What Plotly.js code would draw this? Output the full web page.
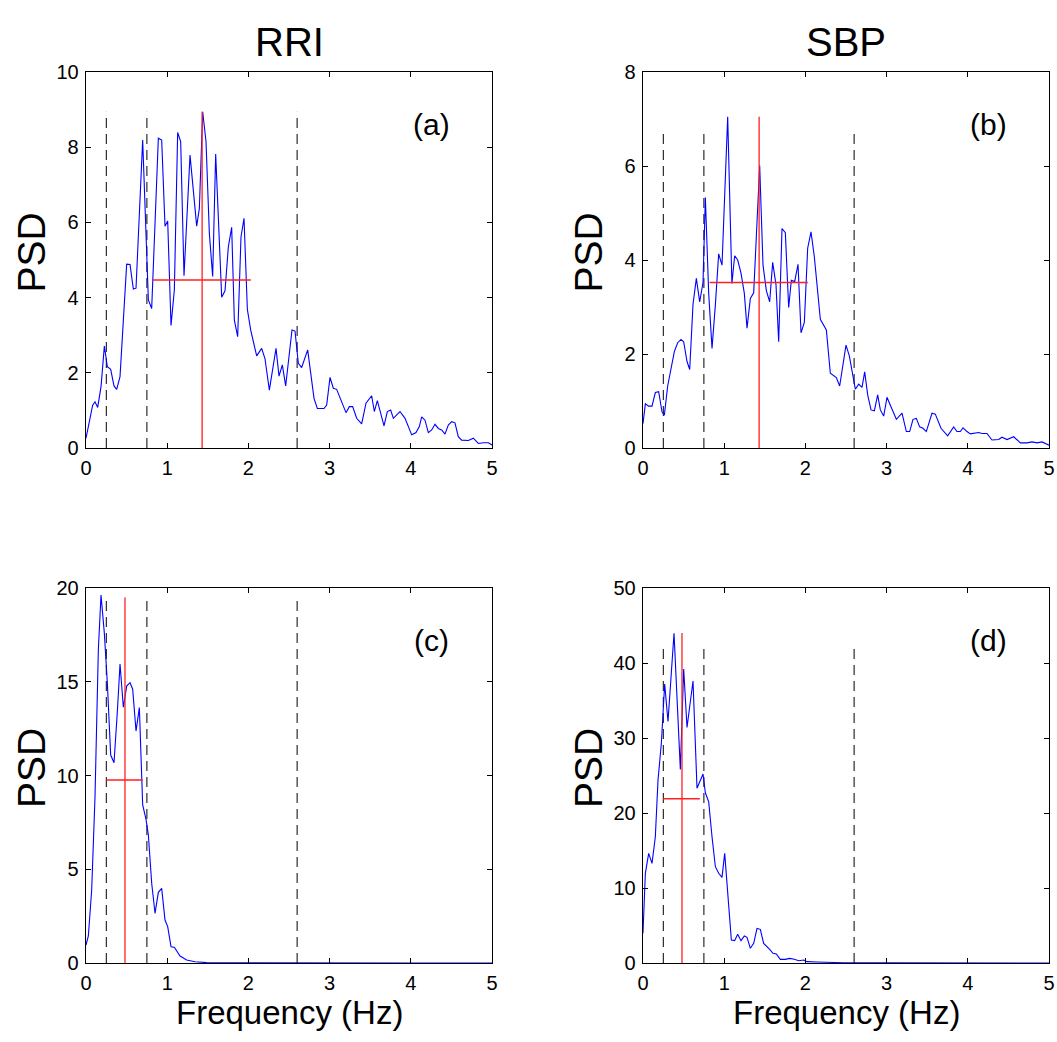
<!DOCTYPE html>
<html><head><meta charset="utf-8">
<script src="https://cdn.plot.ly/plotly-3.0.1.min.js"></script>
<style>body{margin:0;padding:0;background:#fff}#chart{width:1057px;height:1042px}</style>
</head><body><div id="chart"></div>
<script>
// Panel (a) RRI, baseline
const freqA = [0,0.082,0.111,0.144,0.185,0.226,0.263,0.304,0.345,0.378,0.419,0.501,0.542,0.583,0.616,0.698,0.768,0.809,0.891,0.932,0.973,1.006,1.047,1.088,1.129,1.166,1.207,1.281,1.363,1.396,1.437,1.478,1.519,1.560,1.597,1.638,1.671,1.712,1.753,1.794,1.827,1.868,1.909,1.946,1.987,2.028,2.102,2.163,2.204,2.258,2.299,2.340,2.377,2.418,2.459,2.500,2.537,2.574,2.615,2.656,2.730,2.808,2.849,2.931,2.964,3.005,3.046,3.087,3.128,3.202,3.243,3.284,3.333,3.395,3.448,3.518,3.551,3.588,3.670,3.711,3.752,3.785,3.867,3.929,4.011,4.064,4.105,4.134,4.175,4.216,4.257,4.298,4.339,4.380,4.421,4.462,4.503,4.544,4.585,4.626,4.708,4.770,4.832,4.893,4.955,5.0];
const psdA = [0.26,1.14,1.23,1.08,1.63,2.71,2.16,2.09,1.65,1.56,1.90,4.89,4.88,4.23,4.25,8.19,3.94,3.71,8.24,8.19,5.90,6.04,3.26,4.20,8.39,8.15,4.58,7.79,5.90,6.37,8.94,8.15,5.71,4.56,7.82,5.71,4.01,4.18,5.35,5.87,3.40,2.96,5.62,6.11,3.69,3.14,2.45,2.65,2.38,1.54,2.16,2.65,1.91,2.21,1.65,2.45,3.14,3.11,2.25,2.14,2.61,1.32,1.05,1.05,1.14,1.88,1.59,1.56,1.32,0.94,1.10,1.10,0.79,0.64,1.19,1.39,0.97,1.26,0.59,0.97,1.01,0.79,0.97,0.79,0.35,0.41,0.57,0.83,0.74,0.41,0.48,0.63,0.52,0.48,0.37,0.61,0.70,0.67,0.30,0.21,0.20,0.26,0.12,0.14,0.14,0.08];
// Panel (b) SBP, baseline
const freqB = [0,0.029,0.070,0.111,0.152,0.193,0.234,0.263,0.304,0.345,0.386,0.427,0.468,0.501,0.542,0.575,0.616,0.657,0.698,0.739,0.768,0.809,0.850,0.891,0.932,0.973,1.043,1.095,1.129,1.166,1.207,1.248,1.281,1.322,1.363,1.437,1.478,1.519,1.560,1.597,1.638,1.671,1.712,1.753,1.794,1.827,1.868,1.909,1.946,1.987,2.028,2.069,2.110,2.184,2.258,2.307,2.381,2.422,2.500,2.541,2.615,2.656,2.697,2.730,2.767,2.808,2.849,2.890,2.923,2.964,3.005,3.046,3.120,3.190,3.243,3.284,3.325,3.366,3.407,3.448,3.489,3.559,3.600,3.670,3.752,3.826,3.867,3.908,3.941,3.990,4.031,4.134,4.175,4.236,4.298,4.380,4.421,4.483,4.565,4.647,4.729,4.791,4.852,4.914,5.0];
const psdB = [0.52,0.94,0.89,0.89,1.18,1.20,0.77,0.70,1.32,1.67,2.05,2.24,2.31,2.26,1.84,1.67,3.06,3.61,3.11,3.52,5.33,3.29,2.12,3.04,4.13,3.89,7.05,3.50,4.09,4.00,3.72,3.29,2.55,3.18,3.30,6.01,3.89,3.35,3.11,3.95,3.47,2.26,4.67,4.58,2.99,3.57,3.54,3.91,2.45,2.67,4.25,4.60,4.07,2.74,2.51,1.59,1.50,1.32,2.19,1.96,1.25,1.36,1.29,1.62,1.13,0.81,0.79,1.13,0.81,0.68,1.08,0.91,0.61,0.74,0.35,0.35,0.61,0.63,0.45,0.42,0.35,0.74,0.72,0.42,0.26,0.45,0.35,0.35,0.43,0.35,0.30,0.33,0.31,0.31,0.17,0.18,0.23,0.18,0.24,0.11,0.11,0.13,0.11,0.13,0.06];
// Panel (c) RRI, second condition
const freqC = [0,0.029,0.070,0.111,0.152,0.185,0.226,0.263,0.304,0.345,0.386,0.419,0.460,0.501,0.542,0.575,0.616,0.657,0.698,0.739,0.768,0.809,0.850,0.891,0.932,0.973,1.006,1.047,1.088,1.158,1.240,1.342,1.486,2.0,3.0,4.0,5.0];
const psdC = [0.96,1.44,3.89,8.87,16.69,19.63,17.58,14.92,11.09,10.68,13.40,15.95,13.64,14.77,14.95,14.60,12.37,13.62,8.43,7.66,6.83,4.25,2.65,3.77,3.98,2.29,1.94,0.87,0.84,0.37,0.16,0.07,0.02,0.01,0.005,0.003,0.0];
// Panel (d) SBP, second condition
const freqD = [0,0.029,0.070,0.111,0.152,0.185,0.226,0.267,0.308,0.382,0.460,0.501,0.542,0.616,0.665,0.739,0.768,0.809,0.850,0.891,0.932,0.973,1.006,1.043,1.088,1.129,1.166,1.207,1.248,1.281,1.322,1.363,1.404,1.445,1.486,1.560,1.601,1.642,1.691,1.753,1.806,1.864,1.917,1.979,2.02,2.14,2.31,2.47,3.0,4.0,5.0];
const psdD = [3.96,11.96,14.62,13.29,16.84,24.4,29.3,37.2,32.2,43.96,25.8,39.2,31.4,37.6,23.3,25.2,22.7,21.5,16.84,12.84,11.96,11.42,14.62,9.29,3.07,2.98,3.82,2.98,3.60,3.42,1.96,2.62,4.62,4.49,2.62,1.82,1.29,1.20,0.49,0.49,0.62,0.49,0.31,0.40,0.18,0.13,0.09,0.04,0.02,0.01,0.0];

const bandEdges = [0.25, 0.75, 2.6];
const bandTops = [8.94, 6.8, 19.55, 42.5];
const meanFreq = [1.43, 1.43, 0.48, 0.48];
const meanTop = [8.94, 7.05, 19.5, 44];
const halfLevel = [4.47, 3.52, 9.76, 21.9];
const halfStart = [0.82, 0.82, 0.25, 0.25];
const halfEnd = [2.03, 2.03, 0.70, 0.70];
const yMax = [10, 8, 20, 50];
const yStep = [2, 2, 5, 10];
const panelLabels = ['(a)', '(b)', '(c)', '(d)'];
const columnTitles = ['RRI', 'SBP'];
const xLabel = 'Frequency (Hz)';
const yLabel = 'PSD';

const freqs = [freqA, freqB, freqC, freqD];
const psds = [psdA, psdB, psdC, psdD];

const W = 1057, H = 1042;
const FONT = 'Liberation Sans, Arial, sans-serif';
const xDom = [[86/W, 492/W], [643/W, 1049/W]];
const yDom = [[1-448/H, 1-72/H], [1-963/H, 1-588/H]];

const traces = [];
const layout = {
  width: W, height: H,
  margin: {l:0, r:0, t:0, b:0},
  paper_bgcolor: '#fff', plot_bgcolor: '#fff',
  showlegend: false,
  font: {family: FONT, color: '#000', size: 20},
  annotations: []
};

for (let i = 0; i < 4; i++) {
  const sfx = i === 0 ? '' : String(i + 1);
  const xa = 'x' + sfx, ya = 'y' + sfx;
  const col = i % 2, row = Math.floor(i / 2);
  // dashed band edges
  bandEdges.forEach(e => {
    traces.push({x: [e, e], y: [0, bandTops[i]], xaxis: xa, yaxis: ya, mode: 'lines',
      line: {color: '#000', width: 1, dash: '10px,6px'}, hoverinfo: 'skip'});
  });
  // spectrum
  traces.push({x: freqs[i], y: psds[i], xaxis: xa, yaxis: ya, mode: 'lines',
    line: {color: '#0000ff', width: 1.1}});
  // red mean frequency & half-power markers
  traces.push({x: [meanFreq[i], meanFreq[i]], y: [0, meanTop[i]], xaxis: xa, yaxis: ya, mode: 'lines',
    line: {color: '#ff2020', width: 1.3}});
  traces.push({x: [halfStart[i], halfEnd[i]], y: [halfLevel[i], halfLevel[i]], xaxis: xa, yaxis: ya, mode: 'lines',
    line: {color: '#ff2020', width: 1.6}});

  const axBase = {showgrid: false, zeroline: false, showline: true, linecolor: '#000', linewidth: 1.3,
    mirror: 'ticks', ticks: 'inside', ticklen: 5, tickcolor: '#000', tickwidth: 1,
    tickfont: {size: 20, family: FONT}};
  layout['xaxis' + sfx] = Object.assign({}, axBase, {domain: xDom[col], range: [0, 5], dtick: 1, tick0: 0,
    anchor: ya, ticklabelstandoff: 2});
  layout['yaxis' + sfx] = Object.assign({}, axBase, {domain: yDom[row], range: [0, yMax[i]], dtick: yStep[i], tick0: 0,
    anchor: xa, ticklabelstandoff: 2});
  // panel label
  layout.annotations.push({text: panelLabels[i], xref: xa + ' domain', yref: ya + ' domain',
    x: 0.85, y: 0.86, xanchor: 'center', yanchor: 'middle', showarrow: false,
    font: {size: 30, family: FONT}});
  // y label
  layout.annotations.push({text: yLabel, xref: 'paper', yref: ya + ' domain',
    x: (col === 0 ? 31 : 588) / W, y: 0.52, xanchor: 'center', yanchor: 'middle', textangle: -90, showarrow: false,
    font: {size: 39, family: FONT}});
  if (row === 1) {
    layout.annotations.push({text: xLabel, xref: xa + ' domain', yref: 'paper',
      x: 0.5, y: 1 - 1012/H, xanchor: 'center', yanchor: 'middle', showarrow: false,
      font: {size: 33, family: FONT}});
  } else {
    layout.annotations.push({text: columnTitles[col], xref: xa + ' domain', yref: 'paper',
      x: 0.5, y: 1 - 42/H, xanchor: 'center', yanchor: 'middle', showarrow: false,
      font: {size: 40, family: FONT}});
  }
}

Plotly.newPlot('chart', traces, layout, {displayModeBar: false, staticPlot: true});
</script></body></html>
